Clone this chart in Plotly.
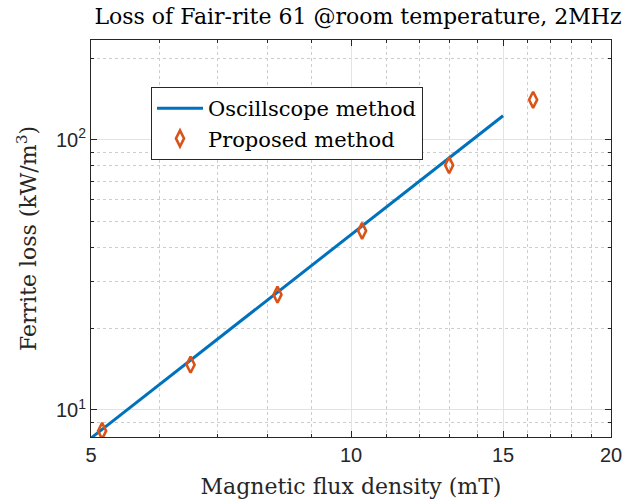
import plotly.graph_objects as go
import math

# Data
line_x = [5.0, 10.0, 15.0]
line_y = [7.87, 44.3, 122.7]

pts_x = [5.15, 6.52, 8.22, 10.3, 12.99, 16.25]
pts_y = [8.36, 14.7, 26.7, 46.0, 80.5, 140.6]

x_major = [5, 10, 15, 20]
x_major_text = ["5", "10", "15", "20"]
x_minor = [6, 7, 8, 9, 11, 12, 13, 14, 16, 17, 18, 19]
y_major = [10, 100]
y_major_text = ["10<sup>1</sup>", "10<sup>2</sup>"]
y_minor = [8, 9, 20, 30, 40, 50, 60, 70, 80, 90, 200]

W, H = 633, 504
L, R, T, B = 91, 611, 40, 437

serif = "DejaVu Serif"
sans = "Liberation Sans"
axcol = "#262626"

fig = go.Figure()
fig.add_trace(go.Scatter(x=line_x, y=line_y, mode="lines", name="Oscillscope method",
                         line=dict(color="#0072BD", width=3)))
fig.add_trace(go.Scatter(x=pts_x, y=pts_y, mode="markers", name="Proposed method",
                         marker=dict(symbol="diamond-tall-open", size=11.5, color="#D95319",
                                     line=dict(color="#D95319", width=2.6))))

common = dict(showline=True, linecolor=axcol, linewidth=1, mirror="ticks",
              ticks="inside", ticklen=6, tickcolor=axcol, tickwidth=1,
              showgrid=True, gridcolor="#e3e3e3", gridwidth=1, zeroline=False,
              automargin=False,
              tickfont=dict(family=sans, size=20, color=axcol))

fig.update_xaxes(type="log", range=[math.log10(5), math.log10(20)],
                 tickvals=x_major, ticktext=x_major_text,
                 minor=dict(tickvals=x_minor, ticks="inside", ticklen=3, tickcolor=axcol,
                            showgrid=True, gridcolor="#cdcdcd", griddash="dot", gridwidth=1),
                 title=dict(text="Magnetic flux density (mT)", standoff=13,
                            font=dict(family=serif, size=22, color=axcol)),
                 **common)
fig.update_yaxes(type="log", range=[math.log10(7.94), math.log10(234)],
                 tickvals=y_major, ticktext=y_major_text,
                 minor=dict(tickvals=y_minor, ticks="inside", ticklen=3, tickcolor=axcol,
                            showgrid=True, gridcolor="#cdcdcd", griddash="dot", gridwidth=1),
                 title=dict(text="Ferrite loss (kW/m<sup>3</sup>)", standoff=13,
                            font=dict(family=serif, size=22, color=axcol)),
                 **common)

fig.update_layout(
    width=W, height=H,
    margin=dict(l=L, r=W - R, t=T, b=H - B, autoexpand=False),
    paper_bgcolor="white", plot_bgcolor="white",
    title=dict(text="Loss of Fair-rite 61 @room temperature, 2MHz",
               x=358 / W, xanchor="center", xref="container",
               y=1 - 16 / H, yanchor="middle", yref="container",
               font=dict(family=serif, size=22, color="black")),
    legend=dict(x=(151 - L) / (R - L), y=(B - 87) / (B - T), xanchor="left", yanchor="top",
                bgcolor="white", bordercolor=axcol, borderwidth=1,
                font=dict(family=serif, size=21, color="black"),
                itemwidth=46, tracegroupgap=0),
    showlegend=True,
)

fig.write_html("out.html", config={"displayModeBar": False},
               post_script="document.body.style.margin='0';")
